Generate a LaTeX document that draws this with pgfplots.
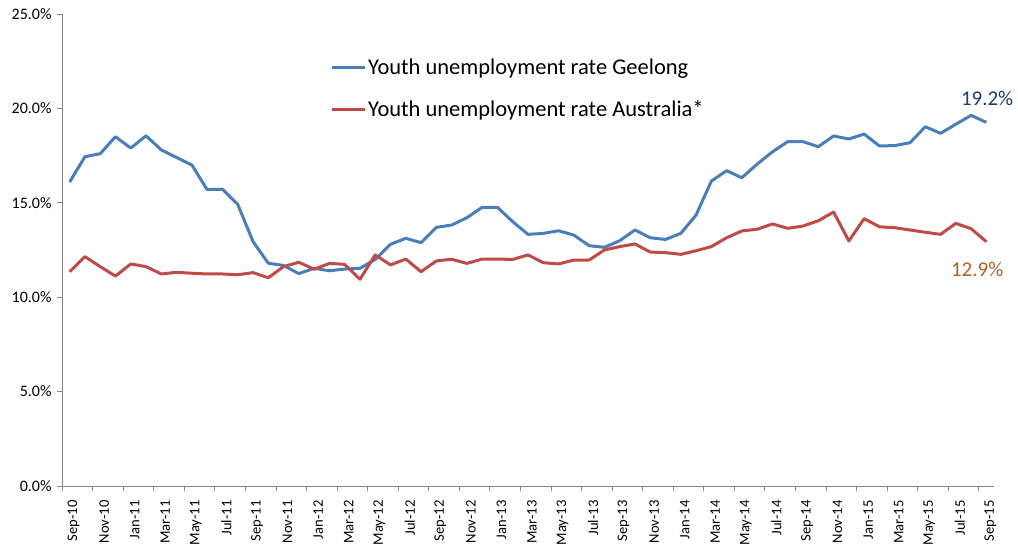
\documentclass[border=0pt]{standalone}
\usepackage{fontspec}
\setmainfont{Carlito}
\usepackage{pgfplots}
\pgfplotsset{compat=1.18}
\definecolor{geelong}{HTML}{4A7EBB}
\definecolor{aus}{HTML}{BE4B48}
\definecolor{axisgray}{HTML}{868686}
\definecolor{navylab}{HTML}{1F3A6E}
\definecolor{brownlab}{HTML}{B0601F}
\begin{document}
\begin{tikzpicture}
\begin{axis}[
  scale only axis,
  width=932bp, height=472bp,
  xmin=-0.5, xmax=60.5,
  ymin=0, ymax=25,
  axis x line=bottom, axis y line=left,
  axis line style={-, draw=axisgray, line width=0.8bp},
  tick align=outside,
  tick style={draw=axisgray, line width=0.8bp},
  ytick={0,5,10,15,20,25},
  major tick length=5bp,
  minor tick length=5bp,
  yticklabel={\pgfmathprintnumber[fixed,fixed zerofill,precision=1]{\tick}\%},
  yticklabel style={font=\fontsize{16bp}{18bp}\selectfont, /pgf/number format/assume math mode=true, xshift=-2bp},
  xtick={0,2,...,60},
  major x tick style={draw=none},
  minor xtick={-0.5,1.5,...,59.5},
  xticklabels={Sep-10,Nov-10,Jan-11,Mar-11,May-11,Jul-11,Sep-11,Nov-11,Jan-12,Mar-12,May-12,Jul-12,Sep-12,Nov-12,Jan-13,Mar-13,May-13,Jul-13,Sep-13,Nov-13,Jan-14,Mar-14,May-14,Jul-14,Sep-14,Nov-14,Jan-15,Mar-15,May-15,Jul-15,Sep-15},
  xticklabel shift=6bp,
  xticklabel style={xshift=4bp, rotate=90, anchor=east, font=\fontsize{14.6bp}{16bp}\selectfont},
  legend style={at={(rel axis cs:0.2876,0.91)}, anchor=north west, draw=none, fill=none,
    font=\fontsize{22.5bp}{26bp}\selectfont, row sep=21bp, inner sep=0bp},
  legend cell align=left,
  legend image code/.code={\draw[#1] (0bp,0bp) -- (33bp,0bp);},
  every axis plot/.append style={line width=3bp, line join=round},
  clip=false,
]
\addplot[geelong, mark=none] coordinates {
(0,16.10) (1,17.44) (2,17.60) (3,18.50) (4,17.90) (5,18.55) (6,17.80) (7,17.40) (8,17.00) (9,15.70)
(10,15.72) (11,14.92) (12,12.95) (13,11.80) (14,11.68) (15,11.25) (16,11.53) (17,11.40) (18,11.49) (19,11.53)
(20,12.00) (21,12.80) (22,13.12) (23,12.89) (24,13.70) (25,13.82) (26,14.21) (27,14.76) (28,14.76) (29,14.00)
(30,13.33) (31,13.38) (32,13.52) (33,13.29) (34,12.73) (35,12.64) (36,12.99) (37,13.56) (38,13.15) (39,13.06)
(40,13.38) (41,14.35) (42,16.15) (43,16.70) (44,16.33) (45,17.05) (46,17.70) (47,18.24) (48,18.24) (49,17.97)
(50,18.54) (51,18.38) (52,18.64) (53,18.01) (54,18.03) (55,18.18) (56,19.03) (57,18.68) (58,19.16) (59,19.63)
(60,19.26)
};
\addlegendentry{Youth unemployment rate Geelong}
\addplot[aus, mark=none] coordinates {
(0,11.35) (1,12.15) (2,11.62) (3,11.12) (4,11.76) (5,11.62) (6,11.23) (7,11.32) (8,11.27) (9,11.23)
(10,11.23) (11,11.19) (12,11.30) (13,11.03) (14,11.62) (15,11.85) (16,11.48) (17,11.79) (18,11.74) (19,10.95)
(20,12.24) (21,11.71) (22,12.02) (23,11.35) (24,11.92) (25,12.01) (26,11.79) (27,12.02) (28,12.02) (29,12.00)
(30,12.24) (31,11.83) (32,11.76) (33,11.97) (34,11.97) (35,12.50) (36,12.68) (37,12.82) (38,12.39) (39,12.36)
(40,12.27) (41,12.46) (42,12.68) (43,13.15) (44,13.51) (45,13.60) (46,13.88) (47,13.65) (48,13.77) (49,14.05)
(50,14.51) (51,12.98) (52,14.16) (53,13.73) (54,13.68) (55,13.56) (56,13.44) (57,13.33) (58,13.91) (59,13.63)
(60,12.94)
};
\addlegendentry{Youth unemployment rate Australia*}
\node[navylab, font=\fontsize{21bp}{24bp}\selectfont] at (axis cs:60.05,20.55) {19.2\%};
\node[brownlab, font=\fontsize{21bp}{24bp}\selectfont] at (axis cs:59.4,11.49) {12.9\%};
\coordinate (ll) at (rel axis cs:0,0);
\coordinate (ur) at (rel axis cs:1,1);
\end{axis}
\pgfresetboundingbox
\path[use as bounding box] ([shift={(-62bp,-60bp)}]ll) rectangle ([shift={(24bp,14bp)}]ur);
\end{tikzpicture}
\end{document}
